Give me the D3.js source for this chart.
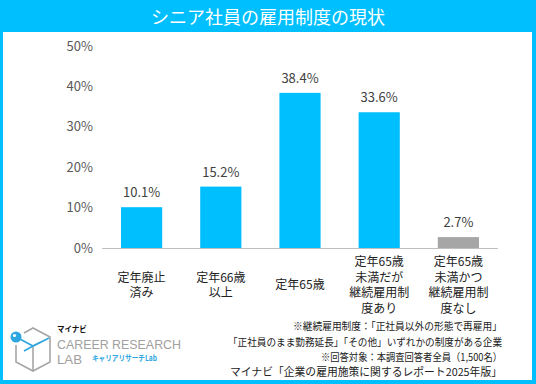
<!DOCTYPE html>
<html><head><meta charset="utf-8">
<script src="https://cdn.jsdelivr.net/npm/d3@7"></script>
<style>body{margin:0;padding:0;background:#fff}svg{display:block}</style>
</head><body>
<script>
const title = "シニア社員の雇用制度の現状";
const categories = ["定年廃止済み","定年66歳以上","定年65歳","定年65歳未満だが継続雇用制度あり","定年65歳未満かつ継続雇用制度なし"];
const categoryLines = [["定年廃止","済み"],["定年66歳","以上"],["定年65歳"],["定年65歳","未満だが","継続雇用制","度あり"],["定年65歳","未満かつ","継続雇用制","度なし"]];
const values = [10.1, 15.2, 38.4, 33.6, 2.7];
const barColors = ["#00BFFF","#00BFFF","#00BFFF","#00BFFF","#A6A6A6"];
const yTicks = [0,10,20,30,40,50];
const notes = ["※継続雇用制度：「正社員以外の形態で再雇用」","「正社員のまま勤務延長」「その他」いずれかの制度がある企業","※回答対象：本調査回答者全員（1,500名）","マイナビ「企業の雇用施策に関するレポート2025年版」"];
const noteWidths = [209, 274, 181, 272];

const W = 536, H = 384;
const font = "'Noto Sans CJK JP','Noto Sans',sans-serif";
const svg = d3.select("body").append("svg").attr("width", W).attr("height", H)
  .style("font-family", font);

// frame
svg.append("rect").attr("width", W).attr("height", H).attr("fill", "#00BFFF");
svg.append("rect").attr("x", 3).attr("y", 32).attr("width", 529).attr("height", 348).attr("fill", "#fff");
svg.append("text").attr("x", 268).attr("y", 16).attr("text-anchor", "middle")
  .attr("dominant-baseline", "central").attr("fill", "#fff").attr("font-size", 18)
  .attr("font-weight", 400).text(title);

const x = d3.scaleBand().domain(categories).range([102, 498]).paddingInner(0.48).paddingOuter(0.24);
const y = d3.scaleLinear().domain([0, 50]).range([248, 46]);

// y axis labels
const yAxis = svg.append("g").attr("transform", "translate(93,0)")
  .call(d3.axisLeft(y).tickValues(yTicks).tickFormat(d => d + "%").tickSize(0).tickPadding(0));
yAxis.select(".domain").remove();
yAxis.selectAll("text").attr("fill", "#595959").attr("font-size", 13).style("font-family", font);

// bars
svg.selectAll("rect.bar").data(values).join("rect").attr("class", "bar")
  .attr("x", (d, i) => x(categories[i])).attr("width", x.bandwidth())
  .attr("y", d => y(d)).attr("height", d => y(0) - y(d))
  .attr("fill", (d, i) => barColors[i]);

// baseline
svg.append("line").attr("x1", 102).attr("x2", 498).attr("y1", y(0) + 0.5).attr("y2", y(0) + 0.5)
  .attr("stroke", "#BFBFBF").attr("stroke-width", 1.2);

// value labels
svg.selectAll("text.val").data(values).join("text").attr("class", "val")
  .attr("x", (d, i) => x(categories[i]) + x.bandwidth() / 2).attr("y", d => y(d) - 10)
  .attr("text-anchor", "middle").attr("fill", "#404040").attr("font-size", 13)
  .text(d => d.toFixed(1) + "%");

// category labels
const lh = 15.6;
categoryLines.forEach((lines, i) => {
  const cx = x(categories[i]) + x.bandwidth() / 2;
  const y0 = 285 - (lines.length - 1) * lh / 2;
  lines.forEach((l, j) => {
    svg.append("text").attr("text-anchor", "middle").attr("fill", "#222").attr("font-size", 12)
      .attr("x", cx).attr("y", y0 + j * lh + 4.3).text(l);
  });
});

// notes
const noteY = [326, 342, 357, 372];
notes.forEach((n, i) => {
  svg.append("text").attr("x", 502).attr("y", noteY[i] + 4).attr("text-anchor", "end")
    .attr("fill", "#222").attr("font-size", i === 3 ? 11 : 10.5)
    .attr("textLength", noteWidths[i]).attr("lengthAdjust", "spacingAndGlyphs").text(n);
});

// logo
const logo = svg.append("g");
logo.append("path").attr("d", "M24,333 L33,328 L50,337 L50,362 L33,371 L16,362 L16,345")
  .attr("fill", "none").attr("stroke", "#A6A6A6").attr("stroke-width", 1.6);
logo.append("path").attr("d", "M33,346 L33,371 M33,346 L41,342")
  .attr("fill", "none").attr("stroke", "#A6A6A6").attr("stroke-width", 1.6);
logo.append("path").attr("d", "M18,338 L33,346 L49,338 M33,346 L24,351")
  .attr("fill", "none").attr("stroke", "#2EA7E0").attr("stroke-width", 1.6);
logo.append("circle").attr("cx", 16).attr("cy", 337).attr("r", 5.5).attr("fill", "#2EA7E0");
logo.append("circle").attr("cx", 14.5).attr("cy", 335.5).attr("r", 1.6).attr("fill", "#fff");
logo.append("text").attr("x", 57).attr("y", 332).attr("font-size", 7.5).attr("font-weight", 700)
  .attr("fill", "#111").text("マイナビ");
logo.append("text").attr("x", 57).attr("y", 348.5).attr("font-size", 13.5)
  .attr("fill", "#A0A0A0").attr("textLength", 124).attr("lengthAdjust", "spacingAndGlyphs")
  .style("font-family", "'Liberation Sans',sans-serif").text("CAREER RESEARCH");
logo.append("text").attr("x", 57).attr("y", 364).attr("font-size", 13.5)
  .attr("fill", "#A0A0A0").attr("textLength", 25).attr("lengthAdjust", "spacingAndGlyphs")
  .style("font-family", "'Liberation Sans',sans-serif").text("LAB");
logo.append("text").attr("x", 92).attr("y", 361).attr("font-size", 7.5).attr("font-weight", 700)
  .attr("fill", "#2EA7E0").attr("textLength", 65).attr("lengthAdjust", "spacingAndGlyphs").text("キャリアリサーチLab");
</script>
</body></html>
